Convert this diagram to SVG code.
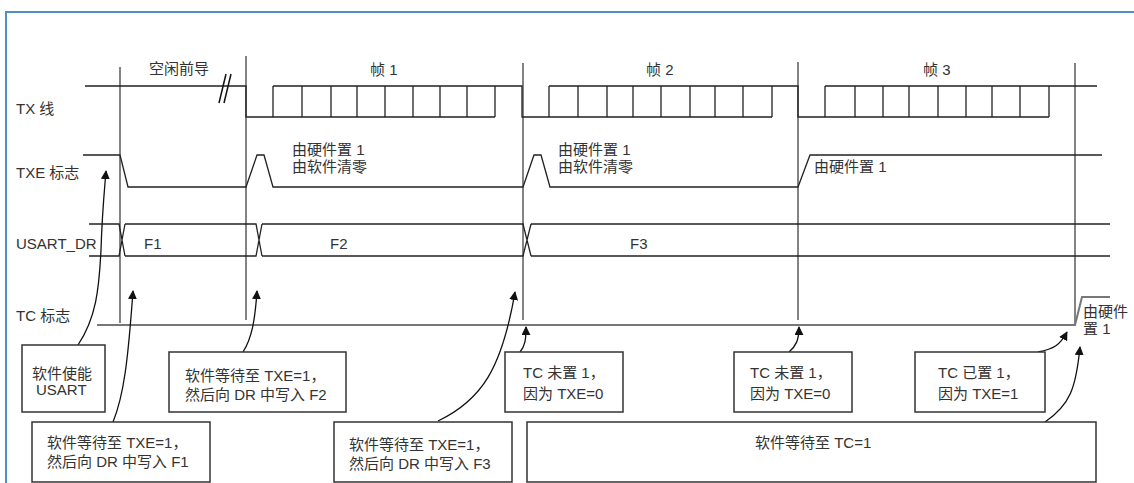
<svg xmlns="http://www.w3.org/2000/svg" width="1134" height="483" viewBox="0 0 1134 483">
<style>
.t{font-family:"Liberation Sans","Noto Sans CJK SC",sans-serif;font-size:15px;fill:#333}
.w{fill:none;stroke:#222;stroke-width:1.3}
.g{fill:none;stroke:#333;stroke-width:1.2}
.b{fill:#fff;stroke:#333;stroke-width:1.5}
.a{fill:none;stroke:#111;stroke-width:1.3;marker-end:url(#ah)}
</style>
<defs>
<marker id="ah" viewBox="0 0 10 10" refX="9" refY="5" markerWidth="9" markerHeight="9" markerUnits="userSpaceOnUse" orient="auto">
<path d="M0,0 L10,5 L0,10 z" fill="#111"/>
</marker>
</defs>
<rect width="1134" height="483" fill="#fff"/>
<path d="M6,483 V12 H1134" fill="none" stroke="#4f8fc6" stroke-width="2"/>

<g id="labels">
<text class="t" x="16" y="114">TX 线</text>
<text class="t" x="16" y="178">TXE 标志</text>
<text class="t" x="16" y="249">USART_DR</text>
<text class="t" x="16" y="321">TC 标志</text>
<text class="t" x="149" y="74">空闲前导</text>
<text class="t" x="370" y="75">帧 1</text>
<text class="t" x="646" y="75">帧 2</text>
<text class="t" x="923" y="75">帧 3</text>
</g>

<g id="markers">
<path class="g" d="M120,67 V323 M246,56 V320 M523,63 V320 M798,62 V320 M1075,63 V325"/>
</g>

<g id="tx-line">
<path class="w" d="M85,86 H246 V117 H273 M273,86 H495 H522 V117 H549 M549,86 H772 H798 V117 H825 M825,86 H1049 H1097"/>
<path class="w" d="M273,117 H495 M549,117 H772 M825,117 H1049"/>
<path class="w" d="M273,86 V117 M302,86 V117 M331,86 V117 M357,86 V117 M385,86 V117 M413,86 V117 M440,86 V117 M467,86 V117 M495,86 V117"/>
<path class="w" d="M549,86 V117 M578,86 V117 M607,86 V117 M633,86 V117 M661,86 V117 M690,86 V117 M715,86 V117 M743,86 V117 M772,86 V117"/>
<path class="w" d="M825,86 V117 M855,86 V117 M883,86 V117 M909,86 V117 M938,86 V117 M966,86 V117 M992,86 V117 M1020,86 V117 M1049,86 V117"/>
<path d="M219,103 L226,74 M224,103 L231,74" fill="none" stroke="#111" stroke-width="1.5"/>
</g>

<g id="txe-flag">
<path class="w" d="M83,155 H120 L128,187 H246 L257,155 H264 L273,187 H523 L534,155 H541 L550,187 H798 L810,155 H1102"/>
<text class="t" x="292" y="155">由硬件置 1</text>
<text class="t" x="292" y="172">由软件清零</text>
<text class="t" x="558" y="155">由硬件置 1</text>
<text class="t" x="558" y="172">由软件清零</text>
<text class="t" x="814" y="172">由硬件置 1</text>
</g>

<g id="usart-dr">
<path class="w" d="M89,224 H119 L122,240 L119,256 H89 M125,224 L122,240 L125,256 M125,224 H256 L259,240 L256,256 H125 M262,224 L259,240 L262,256 M262,224 H523 L527,240 L523,256 H262 M531,224 L527,240 L531,256 M531,224 H1110 M531,256 H1110"/>
<text class="t" x="144" y="249">F1</text>
<text class="t" x="330" y="249">F2</text>
<text class="t" x="630" y="249">F3</text>
</g>

<g id="tc-flag">
<path d="M97,325 H1075 L1082,297 H1110" fill="none" stroke="#777" stroke-width="2"/>
<text class="t" x="1083" y="317">由硬件</text>
<text class="t" x="1083" y="334">置 1</text>
</g>

<g id="connectors">
<path class="a" d="M78,345 C96,318 99,290 101,250 C102,215 104,195 106,171"/>
<path class="a" d="M113,422 C124,395 128,360 133,291"/>
<path class="a" d="M243,352 C252,338 255,320 257,291"/>
<path class="a" d="M438,421 C482,400 502,368 515,292"/>
<path class="a" d="M520,352 C525,346 526,340 526,327"/>
<path class="a" d="M789,352 C796,346 799,340 799,327"/>
<path class="a" d="M1038,352 C1054,349 1060,345 1067,332"/>
<path class="a" d="M1045,422 C1070,405 1076,388 1080,347"/>
</g>

<g id="box-enable">
<rect class="b" x="22" y="345" width="83" height="67"/>
<text class="t" x="32" y="379">软件使能</text>
<text class="t" x="36" y="395">USART</text>
</g>
<g id="box-f2">
<rect class="b" x="169" y="352" width="177" height="60"/>
<text class="t" x="185" y="381">软件等待至 TXE=1，</text>
<text class="t" x="185" y="400">然后向 DR 中写入 F2</text>
</g>
<g id="box-f1">
<rect class="b" x="32" y="422" width="178" height="60"/>
<text class="t" x="47" y="448">软件等待至 TXE=1，</text>
<text class="t" x="47" y="467">然后向 DR 中写入 F1</text>
</g>
<g id="box-f3">
<rect class="b" x="334" y="422" width="178" height="60"/>
<text class="t" x="349" y="450">软件等待至 TXE=1，</text>
<text class="t" x="349" y="469">然后向 DR 中写入 F3</text>
</g>
<g id="box-tc1">
<rect class="b" x="505" y="352" width="118" height="60"/>
<text class="t" x="523" y="378">TC 未置 1，</text>
<text class="t" x="523" y="399">因为 TXE=0</text>
</g>
<g id="box-tc2">
<rect class="b" x="734" y="352" width="118" height="60"/>
<text class="t" x="750" y="378">TC 未置 1，</text>
<text class="t" x="750" y="399">因为 TXE=0</text>
</g>
<g id="box-tc3">
<rect class="b" x="915" y="352" width="130" height="60"/>
<text class="t" x="938" y="378">TC 已置 1，</text>
<text class="t" x="938" y="399">因为 TXE=1</text>
</g>
<g id="box-tcwait">
<rect class="b" x="527" y="422" width="569" height="60"/>
<text class="t" x="755" y="448">软件等待至 TC=1</text>
</g>
</svg>
